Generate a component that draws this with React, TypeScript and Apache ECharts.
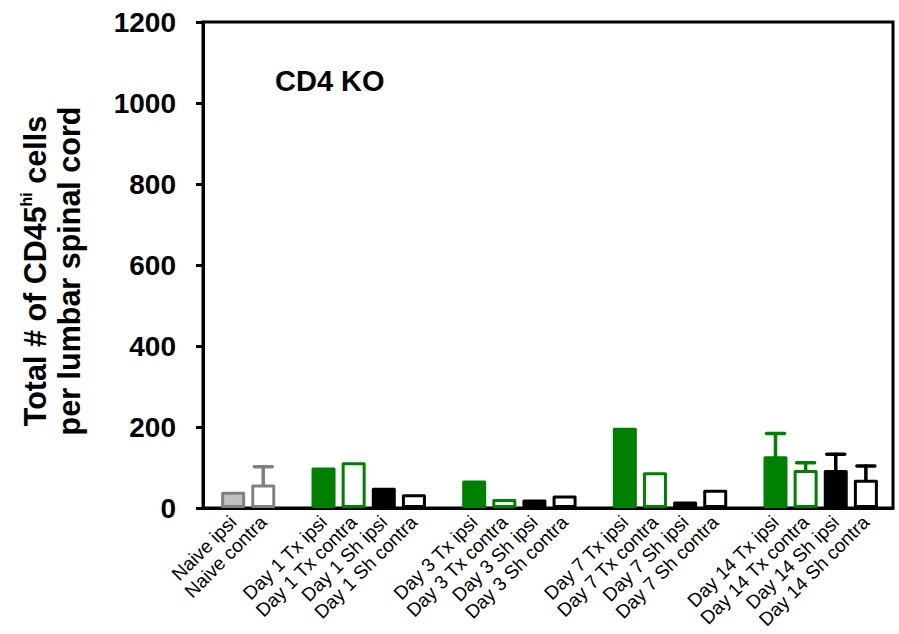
import React, { useEffect, useRef } from "react";
import * as echarts from "echarts";

const categories = [
  "Naive ipsi", "Naive contra", "",
  "Day 1 Tx ipsi", "Day 1 Tx contra", "Day 1 Sh ipsi", "Day 1 Sh contra", "",
  "Day 3 Tx ipsi", "Day 3 Tx contra", "Day 3 Sh ipsi", "Day 3 Sh contra", "",
  "Day 7 Tx ipsi", "Day 7 Tx contra", "Day 7 Sh ipsi", "Day 7 Sh contra", "",
  "Day 14 Tx ipsi", "Day 14 Tx contra", "Day 14 Sh ipsi", "Day 14 Sh contra",
];
const means: (number | null)[] = [
  40, 58, null,
  100, 113, 50, 34, null,
  68, 22, 21, 31, null,
  198, 88, 16, 45, null,
  128, 94, 94, 70,
];
const errors: (number | null)[] = [
  0, 44, null,
  0, 0, 0, 0, null,
  0, 0, 0, 0, null,
  0, 0, 0, 0, null,
  56, 18, 39, 34,
];
const yTicks = [0, 200, 400, 600, 800, 1000, 1200];

const FONT = "'Liberation Sans', Arial, sans-serif";
const GREEN = "#008000";
const GRAY = "#808080";
const LIGHTGRAY = "#c0c0c0";

function strokeFor(name: string) {
  if (name.includes("Naive")) return GRAY;
  if (name.includes("Tx")) return GREEN;
  return "#000";
}
function fillFor(name: string) {
  if (name.includes("contra")) return "#fff";
  if (name.includes("Naive")) return LIGHTGRAY;
  return strokeFor(name);
}

export default function App() {
  const ref = useRef<HTMLDivElement>(null);
  useEffect(() => {
    if (!ref.current) return;
    const chart = echarts.init(ref.current, null, { renderer: "svg" });
    const barData: any[] = [];
    const errData: any[] = [];
    categories.forEach((c, i) => {
      const m = means[i];
      if (c && m != null) {
        barData.push({
          value: [i, m],
          itemStyle: {
            color: fillFor(c),
            borderColor: strokeFor(c),
            borderWidth: 3,
            borderJoin: "round",
          },
        });
        const e = errors[i];
        if (e) errData.push([i, m, e]);
      }
    });
    chart.setOption({
      animation: false,
      grid: {
        left: 203, right: 6, top: 22, bottom: 126,
        show: true, borderColor: "#000", borderWidth: 3,
      },
      xAxis: {
        type: "value",
        min: -1,
        max: 21.9,
        interval: 1,
        splitLine: { show: false },
        axisTick: { show: false },
        axisLine: { show: true, onZero: false, lineStyle: { color: "#000", width: 3 } },
        axisLabel: {
          rotate: 45,
          margin: 11,
          fontSize: 19,
          fontFamily: FONT,
          color: "#000",
          showMaxLabel: false,
          showMinLabel: false,
          formatter: (v: number) => (Number.isInteger(v) && categories[v]) || "",
        },
      },
      yAxis: {
        type: "value",
        min: 0,
        max: 1200,
        interval: 200,
        splitLine: { show: false },
        axisLine: { show: true, onZero: false, lineStyle: { color: "#000", width: 3 } },
        axisTick: { show: true, inside: false, length: 7, lineStyle: { color: "#000", width: 3 } },
        axisLabel: {
          margin: 27,
          fontSize: 28,
          fontWeight: "bold",
          fontFamily: FONT,
          color: "#000",
          formatter: (v: number) => (yTicks.includes(v) ? String(v) : ""),
        },
        name: "{m|Total # of CD45}{sup|hi}{m| cells}\n{m|per lumbar spinal cord}",
        nameLocation: "middle",
        nameRotate: 90,
        nameGap: 117,
        nameTextStyle: {
          fontFamily: FONT,
          fontWeight: "bold",
          fontSize: 30.5,
          color: "#000",
          lineHeight: 34,
          padding: [0, 12, 0, 0],
          rich: {
            m: { fontFamily: FONT, fontWeight: "bold", fontSize: 30.5, lineHeight: 34, color: "#000" },
            sup: { fontFamily: FONT, fontWeight: "bold", fontSize: 16, lineHeight: 34, verticalAlign: "top", color: "#000", padding: [0, 0, 16, 0] },
          },
        },
      },
      graphic: [
        {
          type: "text",
          left: 275,
          top: 66,
          style: { text: "CD4 KO", fontFamily: FONT, fontWeight: "bold", fontSize: 29, fill: "#000" },
        },
      ],
      series: [
        {
          type: "bar",
          barWidth: 24,
          data: barData,
          z: 2,
        },
        {
          type: "custom",
          z: 3,
          data: errData,
          encode: { x: 0, y: 1 },
          renderItem: (params: any, api: any) => {
            const x = api.value(0);
            const m = api.value(1);
            const e = api.value(2);
            const p0 = api.coord([x, m]);
            const p1 = api.coord([x, m + e]);
            const color = strokeFor(categories[x]);
            const st = { stroke: color, lineWidth: 3.5, lineCap: "round" };
            return {
              type: "group",
              children: [
                { type: "line", shape: { x1: p0[0], y1: p0[1], x2: p1[0], y2: p1[1] }, style: st },
                { type: "line", shape: { x1: p1[0] - 9, y1: p1[1], x2: p1[0] + 9, y2: p1[1] }, style: st },
              ],
            };
          },
        },
      ],
    });
    return () => chart.dispose();
  }, []);
  return <div ref={ref} style={{ width: 899, height: 634, position: "absolute", left: 0, top: 0 }} />;
}
